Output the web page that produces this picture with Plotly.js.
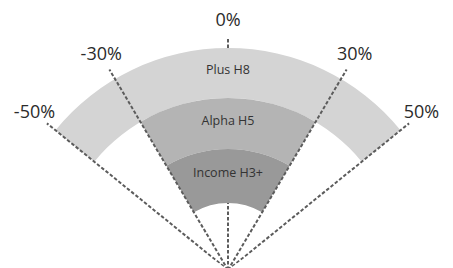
<!DOCTYPE html>
<html>
<head>
<meta charset="utf-8">
<script src="https://cdn.plot.ly/plotly-3.0.1.min.js"></script>
<style>
html,body{margin:0;padding:0;overflow:hidden;background:#fff;}
#chart{width:453px;height:270px;}
</style>
</head>
<body>
<div id="chart"></div>
<script>
// ---- data ----
const bands = ['Plus H8', 'Alpha H5', 'Income H3+'];
const bandLow = [-50, -30, -30];   // percent
const bandHigh = [50, 30, 30];     // percent
const tickValues = [-50, -30, 0, 30, 50];
const tickLabels = ['-50%', '-30%', '0%', '30%', '50%'];

// ---- geometry / style ----
const DEG_PER_PCT = 1.02;
const ringInner = [172, 121, 67];
const ringOuter = [222, 172, 121];
const bandColors = ['#d4d4d4', '#b4b4b4', '#999999'];
const R_LINE = 233;
const R_LABEL = 249;
const R_AXIS = 262;
const SECTOR_HALF = 54; // degrees from vertical

const traces = [];

// bands
traces.push({
  type: 'barpolar',
  theta: bands.map((b, i) => (bandLow[i] + bandHigh[i]) / 2 * DEG_PER_PCT),
  width: bands.map((b, i) => (bandHigh[i] - bandLow[i]) * DEG_PER_PCT),
  base: ringInner,
  r: ringOuter.map((o, i) => o - ringInner[i]),
  marker: {color: bandColors, line: {width: 0}},
  hoverinfo: 'skip',
  showlegend: false
});

// dashed spokes
tickValues.forEach(v => {
  let r, th;
  if (v === 0) {
    r = [0, ringInner[2], null, ringOuter[0], R_LINE];
    th = [0, 0, null, 0, 0];
  } else {
    r = [0, R_LINE];
    th = [v * DEG_PER_PCT, v * DEG_PER_PCT];
  }
  traces.push({
    type: 'scatterpolar', mode: 'lines',
    r: r, theta: th,
    line: {color: '#5c5c5c', width: 2, dash: '3.5px,2px'},
    connectgaps: false,
    hoverinfo: 'skip', showlegend: false, cliponaxis: false
  });
});

// tick labels
traces.push({
  type: 'scatterpolar', mode: 'text',
  r: tickValues.map(() => R_LABEL),
  theta: tickValues.map(v => v * DEG_PER_PCT),
  text: tickLabels,
  textposition: 'middle center',
  textfont: {family: 'Open Sans, sans-serif', size: 18, color: '#2b2b2b'},
  cliponaxis: false, hoverinfo: 'skip', showlegend: false
});

// band labels
traces.push({
  type: 'scatterpolar', mode: 'text',
  r: bands.map((b, i) => (ringInner[i] + ringOuter[i]) / 2 + 2),
  theta: bands.map(() => 0),
  text: bands,
  textposition: 'middle center',
  textfont: {family: 'Open Sans, sans-serif', size: 12.5, color: '#333333'},
  cliponaxis: false, hoverinfo: 'skip', showlegend: false
});

const W = 453, H = 270, CX = 228;
const half = R_AXIS * Math.sin(SECTOR_HALF * Math.PI / 180);
const layout = {
  width: W, height: H,
  margin: {l: 0, r: 0, t: 0, b: 0},
  paper_bgcolor: '#ffffff',
  plot_bgcolor: '#ffffff',
  showlegend: false,
  polar: {
    domain: {x: [(CX - half) / W, (CX + half) / W], y: [0, R_AXIS / H]},
    sector: [90 - SECTOR_HALF, 90 + SECTOR_HALF],
    bgcolor: 'rgba(0,0,0,0)',
    bargap: 0,
    radialaxis: {range: [0, R_AXIS], visible: false, showgrid: false, showline: false, showticklabels: false, ticks: ''},
    angularaxis: {rotation: 90, direction: 'clockwise', visible: false, showgrid: false, showline: false, showticklabels: false, ticks: ''}
  }
};

Plotly.newPlot('chart', traces, layout, {staticPlot: true, displayModeBar: false});
</script>
</body>
</html>
